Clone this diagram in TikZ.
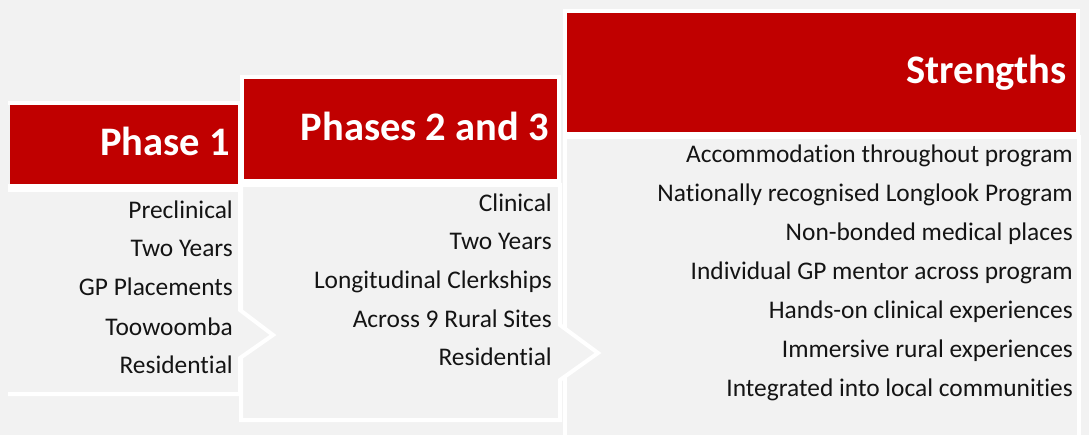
\documentclass[tikz,border=0pt]{standalone}
\usepackage{fontspec}
\setmainfont{Carlito}[Ligatures=NoCommon]
\definecolor{hdrred}{HTML}{C00000}
\definecolor{bggray}{HTML}{F2F2F2}
\definecolor{txt}{HTML}{141414}
\tikzset{
  hdrbox/.style={fill=hdrred,draw=white,line width=4pt},
  bodybox/.style={fill=bggray,draw=white,line width=4pt,line join=miter},
  hdrtext/.style={anchor=base east,inner sep=0pt,text=white,font=\fontsize{40.5}{46}\selectfont\bfseries},
  itemtext/.style={anchor=base east,inner sep=0pt,text=txt,font=\fontsize{25.4}{30}\selectfont}
}
\begin{document}
\begin{tikzpicture}[x=1pt,y=-1pt]
\useasboundingbox (0,0) rectangle (1089,435);
\fill[bggray] (0,0) rectangle (1089,435);
% ---- Strengths (drawn first, lowest) ----
\draw[bodybox] (565,137) -- (1079,137) -- (1079,445) -- (565,445) -- cycle;
\draw[hdrbox] (565,11) rectangle (1078,134);
\node[hdrtext] (sh) at (1067,84) {Strengths};
\node[itemtext] (s1) at (1073,163) {Accommodation throughout program};
\node[itemtext] (s2) at (1073,202) {Nationally recognised Longlook Program};
\node[itemtext] (s3) at (1073,241) {Non-bonded medical places};
\node[itemtext] (s4) at (1073,280) {Individual GP mentor across program};
\node[itemtext] (s5) at (1073,319) {Hands-on clinical experiences};
\node[itemtext] (s6) at (1073,357) {Immersive rural experiences};
\node[itemtext] (s7) at (1073,396) {Integrated into local communities};
% ---- Phases 2 and 3 ----
\draw[bodybox] (241,185) -- (560,185) -- (560,325) -- (598,353) -- (560,380) -- (560,420) -- (241,420) -- cycle;
\draw[hdrbox] (242,77) rectangle (559,181);
\node[hdrtext] (p2h) at (549,141) {Phases 2 and 3};
\node[itemtext] (p21) at (552,212) {Clinical};
\node[itemtext] (p22) at (552,250) {Two Years};
\node[itemtext] (p23) at (552,289) {Longitudinal Clerkships};
\node[itemtext] (p24) at (552,328) {Across 9 Rural Sites};
\node[itemtext] (p25) at (552,366) {Residential};
% ---- Phase 1 ----
\fill[bggray] (0,190) -- (240,190) -- (240,310) -- (273,335) -- (240,358) -- (240,394) -- (0,394) -- cycle;
\draw[white,line width=4pt,line join=miter] (8,190) -- (240,190) -- (240,310) -- (273,335) -- (240,358) -- (240,394) -- (8,394);
\fill[hdrred] (10,103) rectangle (240,186);
\draw[white,line width=4pt,line join=miter] (8,103) -- (240,103) -- (240,186) -- (8,186);
\node[hdrtext] (p1h) at (230,156) {Phase 1};
\node[itemtext] (p11) at (233,219) {Preclinical};
\node[itemtext] (p12) at (233,257) {Two Years};
\node[itemtext] (p13) at (233,296) {GP Placements};
\node[itemtext] (p14) at (233,335) {Toowoomba};
\node[itemtext] (p15) at (233,373) {Residential};
\end{tikzpicture}
\end{document}
